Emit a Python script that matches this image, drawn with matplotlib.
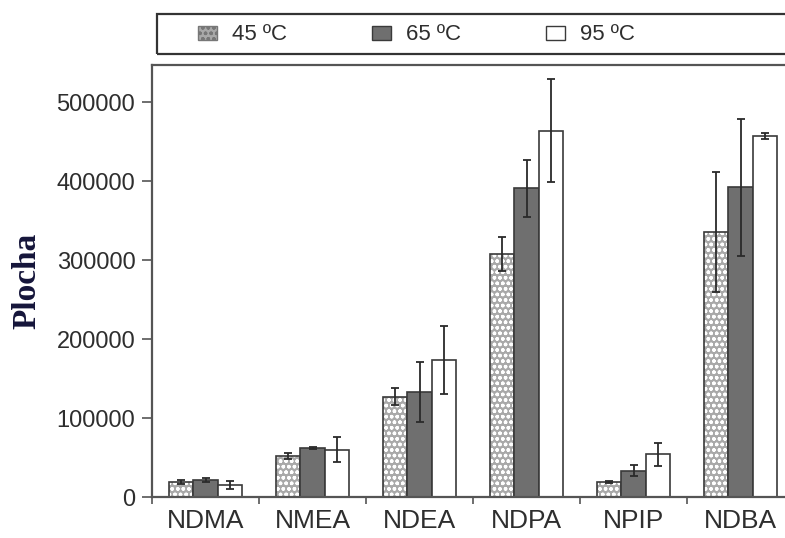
import numpy as np
import matplotlib.pyplot as plt
from matplotlib.patches import Patch, Rectangle
from matplotlib.ticker import FixedLocator

# data
compounds = ["NDMA", "NMEA", "NDEA", "NDPA", "NPIP", "NDBA"]
temps = ["45 ºC", "65 ºC", "95 ºC"]

area_45 = [19000, 52000, 127000, 308000, 19000, 336000]
area_65 = [21000, 62000, 133000, 391000, 33000, 392000]
area_95 = [15000, 60000, 174000, 464000, 54000, 457000]

err_45 = [2000, 3500, 11000, 21500, 1500, 76000]
err_65 = [2500, 1500, 38000, 36000, 7000, 87000]
err_95 = [5500, 16000, 43000, 65000, 14500, 4000]

TXT = "#2e2e2e"
EDGE = "#3a3a3a"
CHECK = "#a9a9a9"

plt.rcParams['font.family'] = ['Liberation Sans', 'DejaVu Sans']

fig = plt.figure(figsize=(7.85, 5.38), dpi=100)
ax = fig.add_axes([152 / 785, 41 / 538, (794 - 152) / 785, (497 - 65) / 538])

x = np.arange(len(compounds))
w = 0.225
err_kw = dict(ecolor="#2a2a2a", elinewidth=1.3, capsize=3, capthick=1.3)

# 45 C: grey checker, drawn as hatch then outline
ax.bar(x - w, area_45, w, color=CHECK, edgecolor="white", hatch="ooo", linewidth=0)
ax.bar(x - w, area_45, w, fill=False, edgecolor=EDGE, linewidth=1.2,
       yerr=err_45, error_kw=err_kw)
# 65 C: dark grey
ax.bar(x, area_65, w, color="#6f6f6f", edgecolor=EDGE, linewidth=1.2,
       yerr=err_65, error_kw=err_kw)
# 95 C: white
ax.bar(x + w, area_95, w, color="white", edgecolor=EDGE, linewidth=1.2,
       yerr=err_95, error_kw=err_kw)

ax.set_xlim(-0.5, len(compounds) - 0.5)
ax.set_ylim(0, 547000)
ax.set_yticks([0, 100000, 200000, 300000, 400000, 500000])
ax.set_xticks(x)
ax.set_xticklabels(compounds, fontsize=19, color=TXT)
ax.xaxis.set_minor_locator(FixedLocator(np.arange(-0.5, len(compounds), 1.0)))
ax.tick_params(axis="x", which="major", length=0, pad=9)
ax.tick_params(axis="x", which="minor", length=5, width=1.2, color="#555555", direction="out")
ax.tick_params(axis="y", labelsize=17, labelcolor=TXT, length=7, width=1.2,
               color="#555555", pad=5)

for side in ["left", "top", "bottom"]:
    ax.spines[side].set_color("#555555")
    ax.spines[side].set_linewidth(1.6)
ax.spines["right"].set_visible(False)

ax.set_ylabel("Plocha", family=["Liberation Serif"], fontweight="bold",
              fontsize=24, color="#15153a", labelpad=10)

# legend box runs off the right edge like in the source figure
fig.patches.append(Rectangle((157 / 785, 1 - 54 / 538), (830 - 157) / 785, 40 / 538,
                             transform=fig.transFigure, fill=False,
                             edgecolor="#333333", linewidth=1.6))

handles = [
    Patch(facecolor=CHECK, edgecolor="#777777", hatch="ooo", linewidth=1),
    Patch(facecolor="#6f6f6f", edgecolor=EDGE, linewidth=1),
    Patch(facecolor="white", edgecolor=EDGE, linewidth=1),
]
fig.legend(handles, temps, loc="center left", ncol=3,
           bbox_to_anchor=(198 / 785, 1 - 35 / 538),
           fontsize=16, frameon=False, borderpad=0, borderaxespad=0,
           handlelength=0.85, handleheight=0.6, handletextpad=0.7,
           columnspacing=3.8, labelcolor=TXT)

fig.savefig("out.png", dpi=100)
